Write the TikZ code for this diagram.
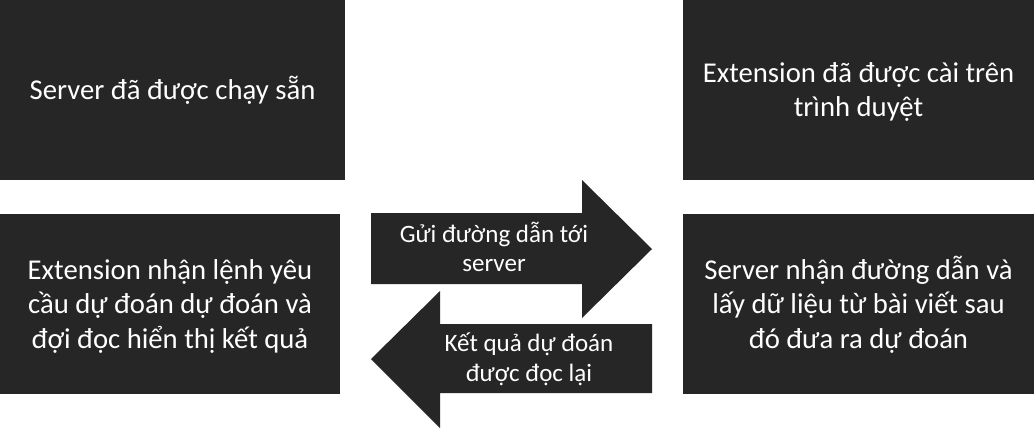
\documentclass[tikz,border=0pt]{standalone}
\usepackage{fontspec}
\setmainfont{Carlito}
\usepackage{xcolor}
\usepackage{tikz}
\definecolor{boxgray}{HTML}{262626}
\tikzset{
	panel/.style={fill=boxgray,text=white,align=center,inner sep=0pt,
		minimum height=180pt,font=\fontsize{28.7}{34.5}\selectfont},
	arrowtext/.style={text=white,align=center,inner sep=0pt,
		font=\fontsize{25}{29.5}\selectfont}
}

\begin{document}
\begin{tikzpicture}[x=1pt,y=-1pt]
	\useasboundingbox[fill=white] (0,0) rectangle (1034,429);

	% four panels
	\node[panel,minimum width=345pt] (run) at (172.5,90) {Server đã được chạy sẵn};
	\node[panel,minimum width=351pt] (ext) at (858.5,90) {\strut Extension đã được cài trên\\trình duyệt};
	\node[panel,minimum width=340pt] (ask) at (170,304) {\strut Extension nhận lệnh yêu\\cầu dự đoán dự đoán và\\đợi đọc hiển thị kết quả};
	\node[panel,minimum width=351pt] (predict) at (858.5,304) {\strut Server nhận đường dẫn và\\lấy dữ liệu từ bài viết sau\\đó đưa ra dự đoán};

	% block arrows between the panels
	\fill[boxgray] (371,213)--(582,213)--(582,180)--(652,249)--(582,318)--(582,284)--(371,284)--cycle;
	\fill[boxgray] (652,324)--(440,324)--(440,291)--(371,359)--(440,428)--(440,393)--(652,393)--cycle;

	\node[arrowtext] (send) at (494,247) {Gửi đường dẫn tới\\server};
	\node[arrowtext] (back) at (529,359) {Kết quả dự đoán\\được đọc lại};
\end{tikzpicture}
\end{document}
